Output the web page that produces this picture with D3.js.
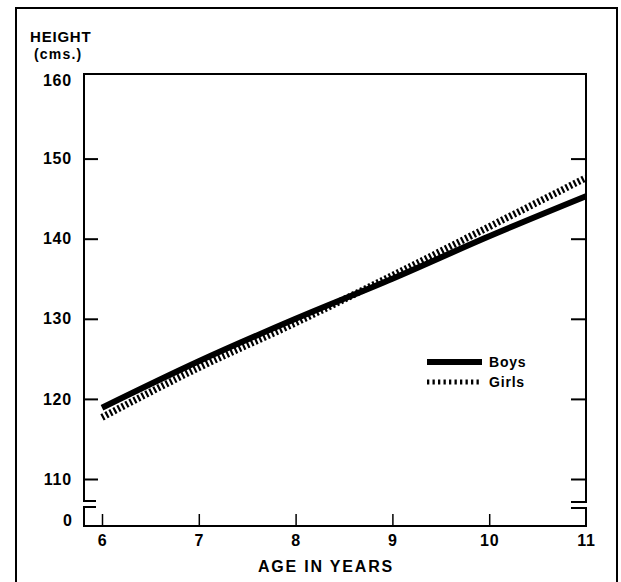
<!DOCTYPE html>
<html>
<head>
<meta charset="utf-8">
<script src="https://cdn.jsdelivr.net/npm/d3@7"></script>
<style>
  html, body { margin: 0; padding: 0; background: #fff; }
  svg text { font-family: "Liberation Sans", Arial, sans-serif; font-weight: bold; fill: #000; }
</style>
</head>
<body>
<svg id="chart" width="621" height="582"></svg>
<script>
// ---- data ----
const ages = [6, 7, 8, 9, 10, 11];
const boys = [118.9, 124.7, 130.0, 135.0, 140.3, 145.3];
const girls = [117.7, 123.9, 129.5, 135.4, 141.5, 147.6];
const seriesNames = ["Boys", "Girls"];
const yTicks = [110, 120, 130, 140, 150, 160];
const yBreakLabel = "0";
const xTicks = [6, 7, 8, 9, 10, 11];
const yTitle = ["HEIGHT", "(cms.)"];
const xTitle = "AGE IN YEARS";

// ---- layout ----
const svg = d3.select("#chart");
const boxL = 84, boxR = 586, boxT = 74, axisY = 526;
const x = d3.scaleLinear().domain([6, 11]).range([102, 586]);
const y = d3.scaleLinear().domain([110, 160]).range([479, 78.5]);

// outer frame
svg.append("path")
  .attr("d", "M16,590 V8 H617 V590")
  .attr("fill", "none").attr("stroke", "#000").attr("stroke-width", 2);

// plot box with axis breaks
const brk1 = 501, brk2 = 507;
const box = svg.append("g").attr("fill", "none").attr("stroke", "#000").attr("stroke-width", 2);
box.append("path").attr("d",
  `M${boxL+12},${brk1} H${boxL} V${boxT} H${boxR} V${brk1+1} H${boxR-15}`);
box.append("path").attr("d",
  `M${boxL+12},${brk2} H${boxL} V${axisY} H${boxR} V${brk2+1} H${boxR-15}`);

// y axis left
const gyl = svg.append("g").attr("transform", `translate(${boxL},0)`)
  .call(d3.axisLeft(y).tickValues(yTicks).tickSize(-14).tickPadding(12).tickFormat(d3.format("d")));
gyl.select(".domain").remove();
gyl.selectAll(".tick").filter(d => d === 160).select("line").remove();
gyl.selectAll(".tick").filter(d => d === 160).attr("transform", `translate(0,${y(160) + 2})`);
gyl.selectAll(".tick line").attr("stroke-width", 2);
gyl.selectAll(".tick text").attr("font-size", 16).attr("letter-spacing", 0.8)
  .attr("font-family", null).attr("fill", "#000");

// y axis right
const gyr = svg.append("g").attr("transform", `translate(${boxR},0)`)
  .call(d3.axisRight(y).tickValues(yTicks.filter(d => d < 160)).tickSize(-15).tickFormat(""));
gyr.select(".domain").remove();
gyr.selectAll(".tick line").attr("stroke-width", 2);

// "0" label at the broken origin
svg.append("text").attr("x", 72).attr("y", 520).attr("dy", "0.35em")
  .attr("text-anchor", "end").attr("font-size", 16).text(yBreakLabel);

// x axis
const gx = svg.append("g").attr("transform", `translate(0,${axisY})`)
  .call(d3.axisBottom(x).tickValues(xTicks).tickSize(-12).tickPadding(9).tickFormat(d3.format("d")));
gx.select(".domain").remove();
gx.selectAll(".tick").filter(d => d === 11).select("line").remove();
gx.selectAll(".tick line").attr("stroke-width", 1.5);
gx.selectAll(".tick text").attr("font-size", 16).attr("letter-spacing", 0.8)
  .attr("font-family", null).attr("fill", "#000");

// titles
svg.append("text").attr("x", 30).attr("y", 42).attr("font-size", 15)
  .attr("letter-spacing", 0.8).text(yTitle[0]);
svg.append("text").attr("x", 34).attr("y", 59).attr("font-size", 14)
  .attr("letter-spacing", 1.2).text(yTitle[1]);
svg.append("text").attr("x", 326).attr("y", 572).attr("text-anchor", "middle")
  .attr("font-size", 16).attr("letter-spacing", 1.8).text(xTitle);

// lines
const line = d3.line().x((d, i) => x(ages[i])).y(d => y(d)).curve(d3.curveMonotoneX);
svg.append("path").datum(boys).attr("d", line)
  .attr("fill", "none").attr("stroke", "#000").attr("stroke-width", 6);
svg.append("path").datum(girls).attr("d", line)
  .attr("fill", "none").attr("stroke", "#000").attr("stroke-width", 7)
  .attr("stroke-dasharray", "2.2,2.3");

// legend
const leg = svg.append("g");
[[seriesNames[0], 362, null, 6], [seriesNames[1], 382, "2.3,3.2", 5]].forEach(([name, ly, dash, w]) => {
  leg.append("line").attr("x1", 427).attr("x2", 482).attr("y1", ly).attr("y2", ly)
    .attr("stroke", "#000").attr("stroke-width", w).attr("stroke-dasharray", dash);
  leg.append("text").attr("x", 489).attr("y", ly + 5).attr("font-size", 14)
    .attr("letter-spacing", 0.8).text(name);
});
</script>
</body>
</html>
